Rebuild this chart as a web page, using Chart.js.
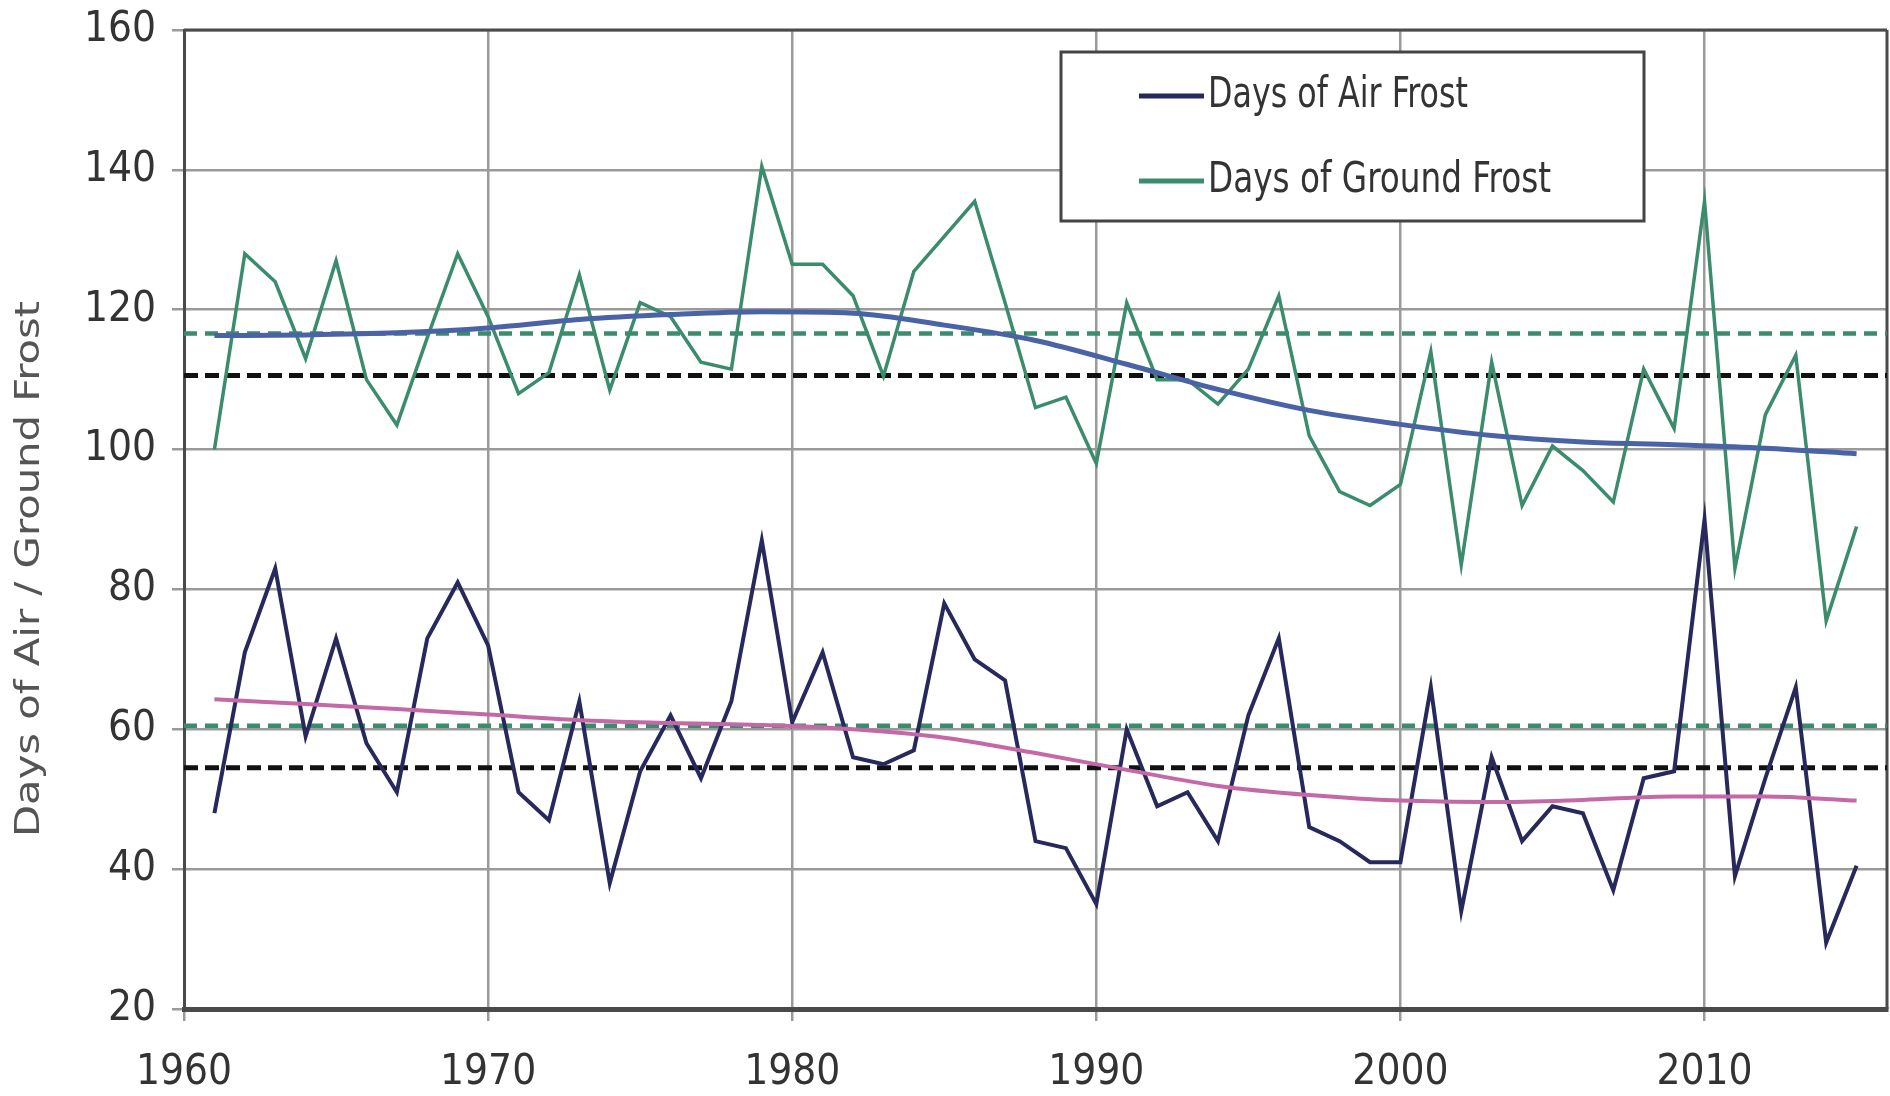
<!DOCTYPE html>
<html>
<head>
<meta charset="utf-8">
<title>Days of Air / Ground Frost</title>
<script src="https://cdn.jsdelivr.net/npm/chart.js@4.4.1/dist/chart.umd.min.js"></script>
<style>
  html,body{margin:0;padding:0;background:#fff;}
  #wrap{width:1890px;height:1096px;position:relative;}
</style>
</head>
<body>
<div id="wrap"><canvas id="frostChart"></canvas></div>
<script>
// data
const years = [1961,1962,1963,1964,1965,1966,1967,1968,1969,1970,
  1971,1972,1973,1974,1975,1976,1977,1978,1979,1980,
  1981,1982,1983,1984,1985,1986,1987,1988,1989,1990,
  1991,1992,1993,1994,1995,1996,1997,1998,1999,2000,
  2001,2002,2003,2004,2005,2006,2007,2008,2009,2010,
  2011,2012,2013,2014,2015];

const airFrost = [48,71,83,59,73,58,51,73,81,72,
  51,47,64,38,54,62,53,64,87,61,
  71,56,55,57,78,70,67,44,43,35,
  60,49,51,44,62,73,46,44,41,41,
  66,34,56,44,49,48,37,53,54,90,
  39,53,66,29.5,40.5];

const groundFrost = [100,128,124,113,127,110,103.5,116,128,119,
  108,111,125,108.5,121,119,112.5,111.5,140.5,126.5,
  126.5,122,110.5,125.5,130.5,135.5,121,106,107.5,98,
  121,110,110,106.5,111.5,122,102,94,92,95,
  114,83.5,112.5,92,100.5,97,92.5,111.5,103,135.5,
  83,105,113.5,75.5,89];

// smoothed trend lines
const trendYears = [1961,1964,1967,1970,1973,1976,1979,1982,1985,1988,
  1991,1994,1997,2000,2003,2006,2009,2012,2015];
const groundTrend = [116.3,116.4,116.7,117.4,118.6,119.3,119.7,119.5,117.8,115.6,
  112.2,108.6,105.6,103.6,102.0,101.1,100.7,100.2,99.4];
const airTrend = [64.3,63.6,62.9,62.1,61.3,60.9,60.6,60.0,58.8,56.6,
  54.2,51.9,50.6,49.8,49.6,49.9,50.4,50.4,49.8];

// dashed reference levels
const refSpan = [1960, 2016];
const groundLevelGreen = 116.6;
const groundLevelBlack = 110.6;
const airLevelGreen = 60.5;
const airLevelBlack = 54.5;

const xTicks = [1960,1970,1980,1990,2000,2010];
const yTicks = [20,40,60,80,100,120,140,160];
const legendLabels = ['Days of Air Frost','Days of Ground Frost'];
const yTitle = 'Days of Air / Ground Frost';

const NAVY = '#27285c';
const GREEN = '#3a8c6c';
const TREND_BLUE = '#4a62a6';
const TREND_PINK = '#c468a8';
const NARROW = '"DejaVu Sans Condensed","DejaVu Sans",sans-serif';

function pts(xs, ys){ return xs.map((x,i)=>({x:x, y:ys[i]})); }
function level(v){ return refSpan.map(x=>({x:x, y:v})); }

// scale a text horizontally so it spans a given width
function fitText(ctx, text, x, y, width){
  const k = width / ctx.measureText(text).width;
  ctx.save();
  ctx.translate(x, y);
  ctx.scale(k, 1);
  ctx.fillText(text, 0, 0);
  ctx.restore();
}

// frame, y title and legend box drawn on the canvas
const framePlugin = {
  id:'frame',
  beforeDatasetsDraw(chart){
    const a = chart.chartArea, ctx = chart.ctx;
    ctx.save();
    ctx.strokeStyle = '#4a4a4a';
    ctx.lineWidth = 3;
    ctx.beginPath();
    ctx.moveTo(a.left, a.top); ctx.lineTo(a.right, a.top);
    ctx.moveTo(a.right, a.top); ctx.lineTo(a.right, a.bottom);
    ctx.stroke();
    ctx.restore();
  },
  afterDraw(chart){
    const ctx = chart.ctx;
    // y axis title, a little below centre as in the source
    ctx.save();
    ctx.translate(30, 569);
    ctx.rotate(-Math.PI/2);
    ctx.font = '34px "DejaVu Sans",sans-serif';
    ctx.fillStyle = '#555';
    ctx.textAlign = 'left';
    ctx.textBaseline = 'middle';
    fitText(ctx, yTitle, -268, 0, 536);
    ctx.restore();

    const box = {x:1061, y:52, w:583, h:169};
    ctx.save();
    ctx.fillStyle = '#fff';
    ctx.fillRect(box.x, box.y, box.w, box.h);
    ctx.strokeStyle = '#444';
    ctx.lineWidth = 3;
    ctx.strokeRect(box.x, box.y, box.w, box.h);
    ctx.font = '42px ' + NARROW;
    ctx.textBaseline = 'middle';
    const rows = [96, 181];
    const widths = [260, 343];
    legendLabels.forEach((lab, i)=>{
      const ds = chart.data.datasets.find(d=>d.label === lab);
      ctx.strokeStyle = ds.borderColor;
      ctx.lineWidth = 5;
      ctx.beginPath();
      ctx.moveTo(1139, rows[i]); ctx.lineTo(1204, rows[i]);
      ctx.stroke();
      ctx.fillStyle = '#333';
      fitText(ctx, lab, 1208, rows[i], widths[i]);
    });
    ctx.restore();
  }
};

const lineBase = {pointRadius:0, fill:false, tension:0};

new Chart(document.getElementById('frostChart'), {
  type:'line',
  data:{
    datasets:[
      Object.assign({}, lineBase, {label:'ground level green', data:level(groundLevelGreen), borderColor:GREEN, borderWidth:4.5, borderDash:[13,8], order:5}),
      Object.assign({}, lineBase, {label:'ground level black', data:level(groundLevelBlack), borderColor:'#111', borderWidth:5, borderDash:[14,7], order:5}),
      Object.assign({}, lineBase, {label:'air level green', data:level(airLevelGreen), borderColor:GREEN, borderWidth:4.5, borderDash:[13,8], order:5}),
      Object.assign({}, lineBase, {label:'air level black', data:level(airLevelBlack), borderColor:'#111', borderWidth:5, borderDash:[14,7], order:5}),
      Object.assign({}, lineBase, {label:'Days of Ground Frost', data:pts(years, groundFrost), borderColor:GREEN, borderWidth:3.5, order:3}),
      Object.assign({}, lineBase, {label:'Days of Air Frost', data:pts(years, airFrost), borderColor:NAVY, borderWidth:4, order:3}),
      Object.assign({}, lineBase, {label:'ground trend', data:pts(trendYears, groundTrend), borderColor:TREND_BLUE, borderWidth:5, cubicInterpolationMode:'monotone', order:1}),
      Object.assign({}, lineBase, {label:'air trend', data:pts(trendYears, airTrend), borderColor:TREND_PINK, borderWidth:4, cubicInterpolationMode:'monotone', order:1})
    ]
  },
  options:{
    responsive:true,
    maintainAspectRatio:false,
    animation:false,
    layout:{padding:{top:30, right:3, left:0, bottom:0}},
    plugins:{legend:{display:false}, tooltip:{enabled:false}},
    scales:{
      x:{
        type:'linear',
        min:refSpan[0], max:refSpan[1],
        afterBuildTicks(scale){ scale.ticks = xTicks.map(v=>({value:v})); },
        afterFit(scale){ scale.height = 87; scale.paddingLeft = 0; scale.paddingRight = 0; },
        grid:{color:'#9a9a9a', lineWidth:2.5, tickLength:12},
        border:{color:'#4a4a4a', width:5},
        ticks:{color:'#333', font:{family:NARROW, size:42}, padding:27, maxRotation:0, callback:v=>String(v)}
      },
      y:{
        min:20, max:160,
        afterBuildTicks(scale){ scale.ticks = yTicks.map(v=>({value:v})); },
        afterFit(scale){ scale.width = 184; scale.paddingTop = 0; scale.paddingBottom = 0; },
        grid:{color:'#9a9a9a', lineWidth:2.5, tickLength:12},
        border:{color:'#4a4a4a', width:3},
        ticks:{color:'#333', font:{family:NARROW, size:42, lineHeight:1}, padding:16}
      }
    }
  },
  plugins:[framePlugin]
});
</script>
</body>
</html>
